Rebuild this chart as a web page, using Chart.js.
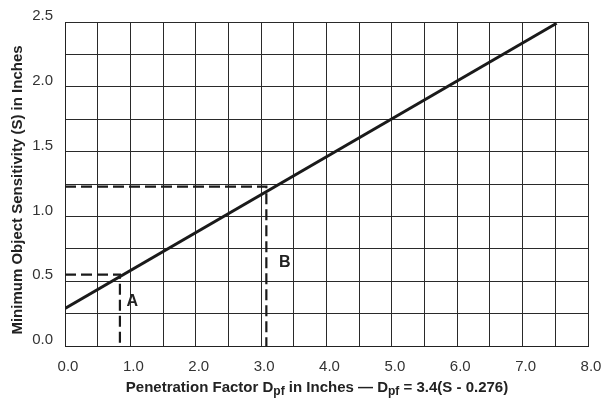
<!DOCTYPE html>
<html>
<head>
<meta charset="utf-8">
<script src="https://cdn.jsdelivr.net/npm/chart.js@4"></script>
<style>
  html, body { margin: 0; padding: 0; background: #fff; }
  #wrap { width: 602px; height: 402px; }
</style>
</head>
<body>
<div id="wrap"><canvas id="chart" width="602" height="402"></canvas></div>
<script>
// data
const lineD = [0, 7.52];
const lineS = [0.29, 2.49];

const dashAD = [0, 0.84, 0.84];
const dashAS = [0.55, 0.55, 0];
const dashBD = [0, 3.08, 3.08];
const dashBS = [1.23, 1.23, 0];

const markNames = ['A', 'B'];
const markD = [1.03, 3.36];
const markS = [0.34, 0.64];

const xMin = 0, xMax = 8, xStep = 0.5;
const yMin = 0, yMax = 2.5, yStep = 0.25;

const FONT = 'Arial, "Liberation Sans", Helvetica, sans-serif';

function pts(xs, ys) {
    return xs.map((x, i) => ({ x: x, y: ys[i] }));
}

// axis titles + A/B letters, drawn on the canvas
const textPlugin = {
    id: 'textPlugin',
    afterDraw(chart) {
        const ctx = chart.ctx;
        const xs = chart.scales.x, ys = chart.scales.y;
        ctx.save();
        ctx.fillStyle = '#222';

        // A / B markers
        ctx.font = 'bold 16px ' + FONT;
        ctx.textAlign = 'center';
        ctx.textBaseline = 'middle';
        markNames.forEach((n, i) => {
            ctx.fillText(n, xs.getPixelForValue(markD[i]), ys.getPixelForValue(markS[i]));
        });

        // y title
        ctx.font = 'bold 15px ' + FONT;
        ctx.translate(18, 190);
        ctx.rotate(-Math.PI / 2);
        ctx.fillText('Minimum Object Sensitivity (S) in Inches', 0, 0);
        ctx.restore();

        // x title with subscripts
        ctx.save();
        ctx.fillStyle = '#222';
        ctx.textBaseline = 'alphabetic';
        ctx.textAlign = 'left';
        const parts = [
            ['Penetration Factor D', 15, 0],
            ['pf', 12, 3],
            [' in Inches \u2014 D', 15, 0],
            ['pf', 12, 3],
            [' = 3.4(S - 0.276)', 15, 0]
        ];
        let total = 0;
        parts.forEach(p => {
            ctx.font = 'bold ' + p[1] + 'px ' + FONT;
            total += ctx.measureText(p[0]).width;
        });
        let x = 317 - total / 2;
        const base = 392;
        parts.forEach(p => {
            ctx.font = 'bold ' + p[1] + 'px ' + FONT;
            ctx.fillText(p[0], x, base + p[2]);
            x += ctx.measureText(p[0]).width;
        });
        ctx.restore();
    }
};

const ctx = document.getElementById('chart').getContext('2d');
new Chart(ctx, {
    type: 'scatter',
    data: {
        datasets: [
            {
                data: pts(lineD, lineS),
                showLine: true,
                borderColor: '#1a1a1a',
                borderWidth: 3,
                pointRadius: 0
            },
            {
                data: pts(dashAD, dashAS),
                showLine: true,
                borderColor: '#1a1a1a',
                borderWidth: 2.2,
                borderDash: [11, 5],
                pointRadius: 0
            },
            {
                data: pts(dashBD, dashBS),
                showLine: true,
                borderColor: '#1a1a1a',
                borderWidth: 2.2,
                borderDash: [11, 5],
                pointRadius: 0
            }
        ]
    },
    options: {
        responsive: false,
        animation: false,
        layout: { padding: { top: 22, right: 0, left: 0, bottom: 0 } },
        plugins: {
            legend: { display: false },
            tooltip: { enabled: false }
        },
        scales: {
            x: {
                type: 'linear',
                min: xMin,
                max: xMax,
                afterFit(scale) {
                    scale.height = 56;
                    scale.paddingRight = 14;
                },
                border: { display: true, color: '#222', width: 1 },
                grid: { color: '#2a2a2a', lineWidth: 1, drawTicks: false },
                ticks: {
                    stepSize: xStep,
                    autoSkip: false,
                    maxRotation: 0,
                    padding: 12,
                    labelOffset: 3,
                    color: '#333',
                    font: { family: FONT, size: 15 },
                    callback: v => (Math.abs(v - Math.round(v)) < 1e-6 ? v.toFixed(1) : '')
                }
            },
            y: {
                type: 'linear',
                min: yMin,
                max: yMax,
                afterFit(scale) { scale.width = 65; },
                border: { display: true, color: '#222', width: 1 },
                grid: { color: '#2a2a2a', lineWidth: 1, drawTicks: false },
                ticks: {
                    stepSize: yStep,
                    autoSkip: false,
                    padding: 12,
                    labelOffset: -6,
                    color: '#333',
                    font: { family: FONT, size: 15 },
                    callback: v => (Math.abs(v * 2 - Math.round(v * 2)) < 1e-6 ? v.toFixed(1) : '')
                }
            }
        }
    },
    plugins: [textPlugin]
});
</script>
</body>
</html>
